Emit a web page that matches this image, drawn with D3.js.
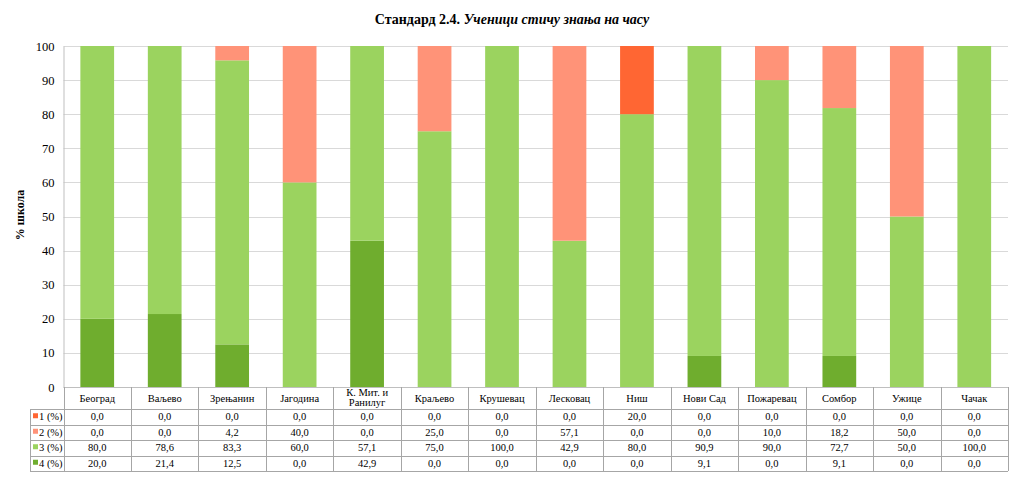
<!DOCTYPE html>
<html>
<head>
<meta charset="utf-8">
<script src="https://cdn.jsdelivr.net/npm/d3@7"></script>
<style>
  body { margin: 0; background: #fff; }
  svg, svg text, svg tspan { font-family: "Liberation Serif", "DejaVu Serif", serif !important; }
  text { fill: #000; }
</style>
</head>
<body>
<div id="chart"></div>
<script>
// categories and series (percent of schools per level)
var cityLines = [["Београд"], ["Ваљево"], ["Зрењанин"], ["Јагодина"], ["К. Мит. и", "Ранилуг"], ["Краљево"], ["Крушевац"],
  ["Лесковац"], ["Ниш"], ["Нови Сад"], ["Пожаревац"], ["Сомбор"], ["Ужице"], ["Чачак"]];
var level1 = [0, 0, 0, 0, 0, 0, 0, 0, 20, 0, 0, 0, 0, 0];
var level2 = [0, 0, 4.2, 40, 0, 25, 0, 57.1, 0, 0, 10, 18.2, 50, 0];
var level3 = [80, 78.6, 83.3, 60, 57.1, 75, 100, 42.9, 80, 90.9, 90, 72.7, 50, 100];
var level4 = [20, 21.4, 12.5, 0, 42.9, 0, 0, 0, 0, 9.1, 0, 9.1, 0, 0];
var seriesNames = ["1 (%)", "2 (%)", "3 (%)", "4 (%)"];
var yTicks = [0, 10, 20, 30, 40, 50, 60, 70, 80, 90, 100];

var colors = ["#ff6633", "#ff9378", "#9bd35f", "#6fad2e"];
var series = [level1, level2, level3, level4];

var W = 1024, H = 477;
var margin = { top: 46, left: 63.5, right: 16 };

var svg = d3.select("#chart").append("svg")
  .attr("width", W).attr("height", H)
  .attr("font-family", "Liberation Serif, serif");

var x = d3.scaleBand()
  .domain(d3.range(cityLines.length))
  .range([margin.left, W - margin.right])
  .paddingInner(0.5).paddingOuter(0.25);

var band = d3.scaleBand()
  .domain(d3.range(cityLines.length))
  .range([margin.left, W - margin.right]);

var y = d3.scaleLinear().domain([0, 100]).range([387, margin.top]);

// title
var title = svg.append("text")
  .attr("x", 512).attr("y", 24)
  .attr("text-anchor", "middle")
  .style("font-size", "14px").style("font-weight", "bold");
title.append("tspan").text("Стандард 2.4. ");
title.append("tspan").style("font-style", "italic").text("Ученици стичу знања на часу");

// grid lines
svg.append("g").selectAll("line")
  .data(yTicks.filter(d => d > 0))
  .enter().append("line")
  .attr("x1", margin.left).attr("x2", W - margin.right)
  .attr("y1", d => Math.round(y(d)) + 0.5).attr("y2", d => Math.round(y(d)) + 0.5)
  .attr("stroke", "#d9d9d9");

// y axis
var yAxis = svg.append("g")
  .attr("transform", "translate(" + margin.left + ",0)")
  .call(d3.axisLeft(y).tickValues(yTicks).tickSize(0).tickPadding(9));
yAxis.attr("font-family", null);
yAxis.select(".domain").attr("stroke", "#bfbfbf");
yAxis.selectAll("text").style("font-size", "12.5px");

svg.append("text")
  .attr("transform", "translate(24,215) rotate(-90)")
  .attr("text-anchor", "middle")
  .style("font-size", "12px").style("font-weight", "bold")
  .text("% школа");

// stacked bars: 4 at bottom, then 3, 2, 1
var stackOrder = [3, 2, 1, 0];
cityLines.forEach(function(c, i) {
  var base = 0;
  stackOrder.forEach(function(s) {
    var v = series[s][i];
    if (v > 0) {
      svg.append("rect")
        .attr("x", x(i)).attr("width", x.bandwidth())
        .attr("y", y(base + v)).attr("height", y(base) - y(base + v))
        .attr("fill", colors[s]);
    }
    base += v;
  });
});

// data table
var tTop = 387, headH = 22, rowH = 15.5;
var tBottom = tTop + headH + rowH * 4;
var grid = svg.append("g").attr("stroke", "#a6a6a6").attr("fill", "none");
grid.append("line").attr("x1", margin.left).attr("x2", W - margin.right)
  .attr("y1", tTop + 0.5).attr("y2", tTop + 0.5).attr("stroke", "#bfbfbf");
for (var r = 0; r <= 4; r++) {
  var yy = Math.round(tTop + headH + rowH * r) + 0.5;
  grid.append("line").attr("x1", 30).attr("x2", W - margin.right)
    .attr("y1", yy).attr("y2", yy);
}
grid.append("line").attr("x1", 30.5).attr("x2", 30.5)
  .attr("y1", tTop + headH).attr("y2", tBottom);
d3.range(cityLines.length + 1).forEach(function(i) {
  var xx = Math.round(i < cityLines.length ? band(i) : W - margin.right) + 0.5;
  grid.append("line").attr("x1", xx).attr("x2", xx)
    .attr("y1", tTop).attr("y2", tBottom);
});

// header labels
cityLines.forEach(function(lines, i) {
  var cx = band(i) + band.bandwidth() / 2;
  var t = svg.append("text").attr("text-anchor", "middle").style("font-size", "10.5px");
  var y0 = lines.length === 1 ? tTop + headH / 2 + 4 : tTop + 9;
  lines.forEach(function(l, k) {
    t.append("tspan").attr("x", cx).attr("y", y0 + k * 10).text(l);
  });
});

// rows
var fmt = v => v.toFixed(1).replace(".", ",");
series.forEach(function(vals, r) {
  var cy = tTop + headH + rowH * r + rowH / 2 + 3.5;
  svg.append("rect").attr("x", 33).attr("y", cy - 7).attr("width", 5).attr("height", 5)
    .attr("fill", colors[r]);
  svg.append("text").attr("x", 39).attr("y", cy)
    .style("font-size", "10.5px").text(seriesNames[r]);
  vals.forEach(function(v, i) {
    svg.append("text")
      .attr("x", band(i) + band.bandwidth() / 2).attr("y", cy)
      .attr("text-anchor", "middle").style("font-size", "10.5px")
      .text(fmt(v));
  });
});
</script>
</body>
</html>
